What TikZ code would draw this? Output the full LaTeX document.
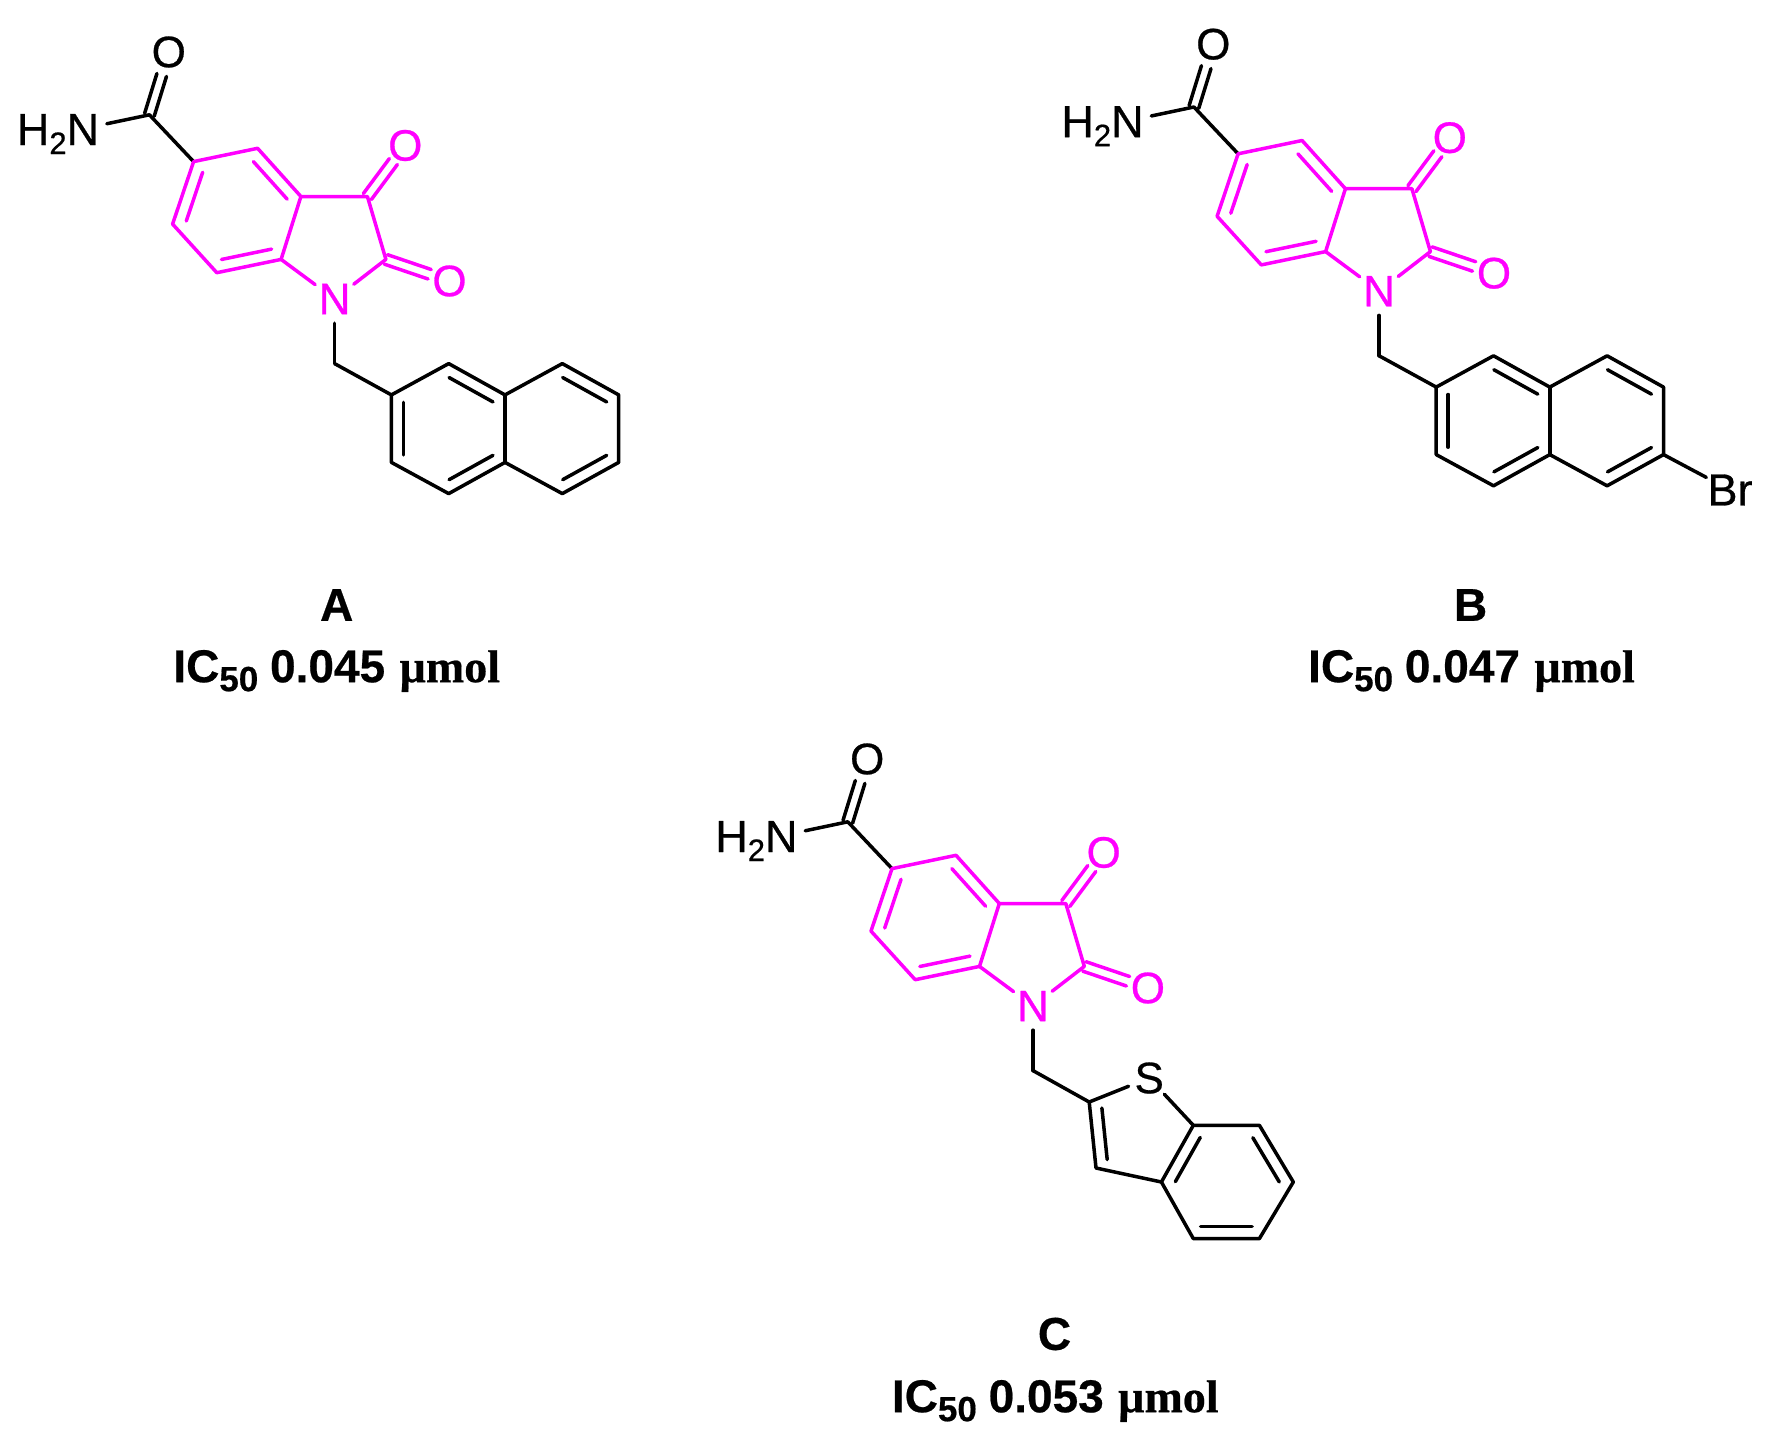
\documentclass[tikz,border=0pt]{standalone}
\usepackage{fontspec}
\setmainfont{Liberation Sans}
\newfontfamily\atomf{Liberation Sans}[FakeBold=0.6]
\newfontfamily\capf{Liberation Sans Bold}[FakeBold=0.5]
\newfontfamily\serifb{Liberation Serif Bold}[FakeBold=0.5]
\usetikzlibrary{calc}
\definecolor{hotm}{RGB}{255,0,255}
\tikzset{
  bondline/.style={line width=3.5pt,line join=round,line cap=round},
  atomlabel/.style={circle,inner sep=0pt,minimum size=48pt,font=\atomf\fontsize{44}{44}\selectfont},
  amidelabel/.style={rectangle,inner ysep=3pt,inner xsep=7.5pt,font=\atomf\fontsize{45}{45}\selectfont},
  caplabel/.style={inner sep=0pt,font=\capf\fontsize{46}{46}\selectfont},
}
% inner line of an aromatic double bond, on the left of a->b
\newcommand\innerbond[2]{\draw[bondline] ($(#1)!.11!(#2)!12pt!90:(#2)$) -- ($(#1)!.89!(#2)!12pt!90:(#2)$);}
% two parallel lines of an exocyclic double bond
\newcommand\exobond[4][0pt]{%
  \draw[bondline,shorten >=#4] ($(#2)!5pt!90:(#3)$) -- ($(#3)!5pt!-90:(#2)$);
  \draw[bondline,shorten >=#4] ($(#2)!5pt!-90:(#3)$) -- ($(#3)!5pt!90:(#2)$);}
\newcommand\icval[1]{IC\raisebox{-9pt}{\fontsize{35}{35}\selectfont 50}\hspace{-1pt} #1\hspace{1.5pt} {\serifb \char"00B5 mol}}
% the common isatin-5-carboxamide core, prefix #1, shift (#2,#3)
\newcommand\corepart[3]{%
\begin{scope}[shift={(#2,#3)}]
  \coordinate (#1am) at (149.4,114.8);
  \coordinate (#1c5) at (193.6,161.6);
  \coordinate (#1c4) at (257.6,148.3);
  \coordinate (#1c3a) at (300.9,196.5);
  \coordinate (#1c7a) at (281.1,259.4);
  \coordinate (#1c7) at (216.8,272.7);
  \coordinate (#1c6) at (172.6,224.1);
  \coordinate (#1c3) at (367.4,196.5);
  \coordinate (#1c2) at (385.9,259.4);
  \coordinate (#1ch) at (334.6,363.6);
  \node[atomlabel] (#1oa) at (168.8,52) {O};
  \node[amidelabel,anchor=base] (#1hn) at (58,145) {H\raisebox{-9pt}{\fontsize{31}{31}\selectfont 2}N};
  \node[atomlabel,text=hotm] (#1n) at (334.6,299) {N};
  \node[atomlabel,text=hotm] (#1ob) at (405.3,145.5) {O};
  \node[atomlabel,text=hotm] (#1oc) at (449.5,281) {O};
  \draw[bondline] (#1c5) -- (#1am) -- (#1hn);
  \exobond{#1am}{#1oa}{24pt}
  \draw[bondline] (#1n) -- (#1ch);
  \begin{scope}[hotm]
    \draw[bondline] (#1c5) -- (#1c4) -- (#1c3a) -- (#1c7a) -- (#1c7) -- (#1c6) -- cycle;
    \draw[bondline] (#1c3a) -- (#1c3) -- (#1c2) -- (#1n) -- (#1c7a);
    \innerbond{#1c5}{#1c6}
    \innerbond{#1c7}{#1c7a}
    \innerbond{#1c3a}{#1c4}
    \exobond{#1c3}{#1ob}{20pt}
    \exobond{#1c2}{#1oc}{21pt}
  \end{scope}
\end{scope}}
% naphthalene, prefix #1, shift (#2,#3)
\newcommand\naphpart[3]{%
\begin{scope}[shift={(#2,#3)}]
  \coordinate (#1a1) at (391.4,394.9);
  \coordinate (#1a2) at (448.7,363.6);
  \coordinate (#1a3) at (505,394.9);
  \coordinate (#1a4) at (562.3,363.6);
  \coordinate (#1a5) at (618.7,394.9);
  \coordinate (#1a6) at (618.7,462.4);
  \coordinate (#1a7) at (562.3,493.6);
  \coordinate (#1a8) at (505,462.4);
  \coordinate (#1a9) at (448.7,493.6);
  \coordinate (#1a10) at (391.4,462.4);
  \draw[bondline] (#1ch) -- (#1a1) -- (#1a2) -- (#1a3) -- (#1a4) -- (#1a5) -- (#1a6) -- (#1a7) -- (#1a8) -- (#1a9) -- (#1a10) -- (#1a1);
  \draw[bondline] (#1a3) -- (#1a8);
  \innerbond{#1a1}{#1a10}
  \innerbond{#1a3}{#1a2}
  \innerbond{#1a9}{#1a8}
  \innerbond{#1a5}{#1a4}
  \innerbond{#1a7}{#1a6}
\end{scope}}
\begin{document}
\begin{tikzpicture}[x=1pt,y=-1pt]
\useasboundingbox (0,0) rectangle (1766,1448);
% A
\corepart{A}{0}{0}
\naphpart{A}{0}{0}
\node[caplabel] (labelA) at (336.7,605) {A};
\node[caplabel] (valueA) at (336.7,671) {\icval{0.045}};
% B
\corepart{B}{1044.5}{-7.8}
\naphpart{B}{1044.8}{-7.8}
\node[atomlabel,minimum size=0pt,inner sep=1pt,rectangle,font=\atomf\fontsize{45}{45}\selectfont] (br) at (1730,490) {Br};
\draw[bondline] (Ba6) -- (br);
\node[caplabel] (labelB) at (1470.6,605) {B};
\node[caplabel] (valueB) at (1471.5,671) {\icval{0.047}};
% C
\corepart{C}{698.4}{707}
\coordinate (t2) at (1089.2,1102);
\coordinate (t3) at (1096,1168);
\coordinate (t3a) at (1161.4,1182);
\coordinate (t7a) at (1193.3,1125.3);
\coordinate (b1) at (1259.4,1125.3);
\coordinate (b2) at (1293.3,1182);
\coordinate (b3) at (1259.4,1238.6);
\coordinate (b4) at (1193.3,1238.6);
\node[atomlabel,minimum size=44pt] (sul) at (1149.2,1078) {S};
\draw[bondline] (Cch) -- (t2) -- (sul) -- (t7a) -- (b1) -- (b2) -- (b3) -- (b4) -- (t3a) -- (t3) -- (t2);
\draw[bondline] (t3a) -- (t7a);
\innerbond{t2}{t3}
\innerbond{t7a}{t3a}
\innerbond{b2}{b1}
\innerbond{b4}{b3}
\node[caplabel] (labelC) at (1054.5,1334) {C};
\node[caplabel] (valueC) at (1055.3,1401) {\icval{0.053}};
\end{tikzpicture}
\end{document}
